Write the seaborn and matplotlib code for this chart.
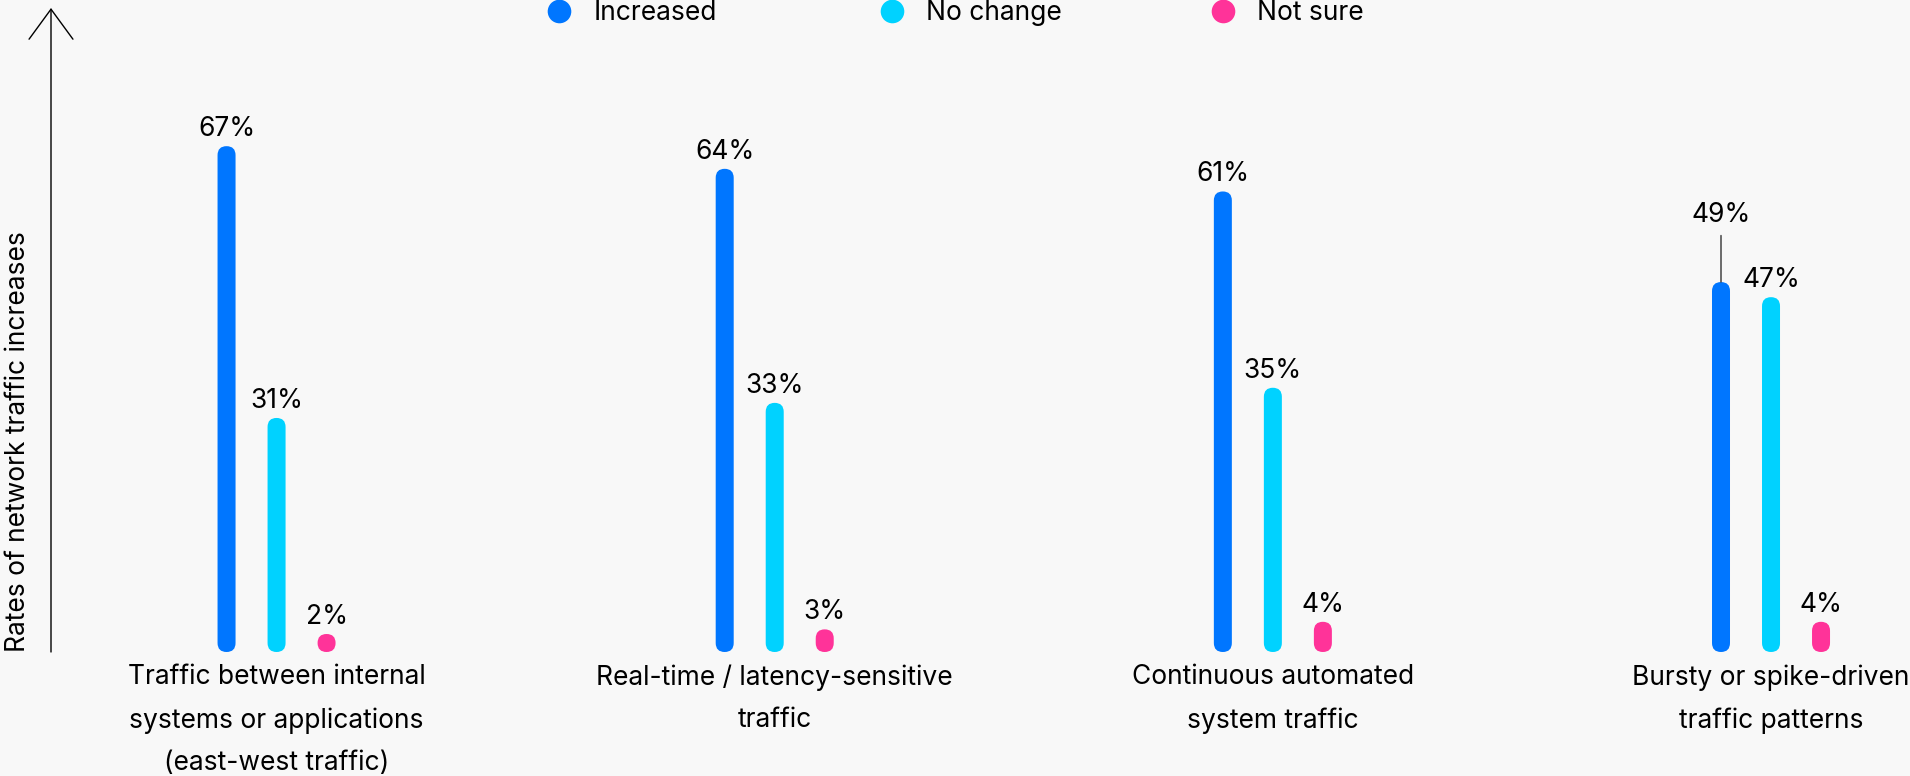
import matplotlib
matplotlib.use("Agg")
import matplotlib.pyplot as plt
import seaborn as sns
import pandas as pd
from matplotlib.patches import FancyBboxPatch, BoxStyle
from matplotlib.lines import Line2D

# ---------------- data ----------------
categories = [
    "Traffic between internal\nsystems or applications\n(east-west traffic)",
    "Real-time / latency-sensitive\ntraffic",
    "Continuous automated\nsystem traffic",
    "Bursty or spike-driven\ntraffic patterns",
]
series = ["Increased", "No change", "Not sure"]
increased = [67, 64, 61, 49]
no_change = [31, 33, 35, 47]
not_sure = [2, 3, 4, 4]
colors = ["#0076FF", "#00D2FF", "#FF3399"]
y_label = "Rates of network traffic increases"

# ---------------- style / layout ----------------
W, H, DPI = 1910, 776, 100
BG = "#F8F8F8"
FS = 19
AX_LEFT, AX_BOTTOM, AX_TOP = 51, 124, 768      # pixels
XLIM = (-0.4528, 3.279)
YLIM = (0, 85.3)
LEG_X = [546, 879, 1210]                          # legend handle starts (px)
LEG_Y = 13                                        # from top (px)
LABEL_LIFT = {(0, 3): 60}                         # (series, category) -> px

sns.set_theme(style="white")
plt.rcParams["font.family"] = ["Inter", "DejaVu Sans"]
plt.rcParams["text.color"] = "black"

rows = []
for s, vals in zip(series, [increased, no_change, not_sure]):
    for c, v in zip(categories, vals):
        rows.append({"category": c, "series": s, "value": v})
df = pd.DataFrame(rows)

fig = plt.figure(figsize=(W / DPI, H / DPI), dpi=DPI, facecolor=BG)
ax_w = W - AX_LEFT
ax_h = AX_TOP - AX_BOTTOM
ax = fig.add_axes([AX_LEFT / W, AX_BOTTOM / H, ax_w / W, ax_h / H])
ax.set_facecolor(BG)

sns.barplot(data=df, x="category", y="value", hue="series",
            order=categories, hue_order=series, palette=colors,
            width=0.3012, gap=0.64, saturation=1, errorbar=None,
            legend=False, ax=ax)

ax.set_xlim(*XLIM)
ax.set_ylim(*YLIM)

x_per_px = (XLIM[1] - XLIM[0]) / ax_w
y_per_px = (YLIM[1] - YLIM[0]) / ax_h
m_aspect = y_per_px / x_per_px

# rounded bars
for si, cont in enumerate(ax.containers):
    for ci, bar in enumerate(cont):
        x, w, hgt = bar.get_x(), bar.get_width(), bar.get_height()
        col = bar.get_facecolor()
        bar.set_visible(False)
        hh = max(hgt, w * m_aspect)
        p = FancyBboxPatch((x, 0), w, hh,
                           boxstyle=BoxStyle.Round(pad=0, rounding_size=w / 2),
                           mutation_aspect=m_aspect, fc=col, ec="none", zorder=3)
        ax.add_patch(p)
        lift_px = LABEL_LIFT.get((si, ci), 10)
        lift_pt = lift_px * 72 / DPI
        kw = {}
        if (si, ci) in LABEL_LIFT:
            kw["arrowprops"] = dict(arrowstyle="-", color="#333333", lw=1,
                                    shrinkA=3, shrinkB=0)
        ax.annotate(f"{int(round(hgt))}%", xy=(x + w / 2, hh),
                    xytext=(0, lift_pt), textcoords="offset points",
                    ha="center", va="baseline", fontsize=FS, color="black",
                    annotation_clip=False, **kw)

# axes decoration
for sp in ax.spines.values():
    sp.set_visible(False)
ax.set_yticks([])
ax.set_xlabel("")
ax.set_ylabel("")
ax.set_xticks(range(len(categories)))
ax.set_xticklabels(categories, fontsize=FS, linespacing=1.82, color="black")
ax.tick_params(axis="x", length=0, pad=9)

ax.annotate("", xy=(0, 1), xytext=(0, 0), xycoords="axes fraction",
            textcoords="axes fraction",
            arrowprops=dict(arrowstyle="->,head_length=21.6,head_width=15.8",
                            mutation_scale=1, lw=1, color="black",
                            shrinkA=0, shrinkB=0),
            annotation_clip=False)

fig.text(18 / W, AX_BOTTOM / H, y_label, rotation=90, ha="center",
         va="bottom", fontsize=FS, color="black")

# legend
for i, (s, c) in enumerate(zip(series, colors)):
    hdl = Line2D([], [], ls="none", marker="o", markersize=17,
                 markerfacecolor=c, markeredgecolor="none")
    fig.legend(handles=[hdl], labels=[s], loc="center left",
               bbox_to_anchor=(LEG_X[i] / W, 1 - LEG_Y / H), frameon=False,
               fontsize=FS, handlelength=1.0, handletextpad=0.79,
               borderpad=0, borderaxespad=0)

fig.savefig("out.png", dpi=DPI, facecolor=BG)
